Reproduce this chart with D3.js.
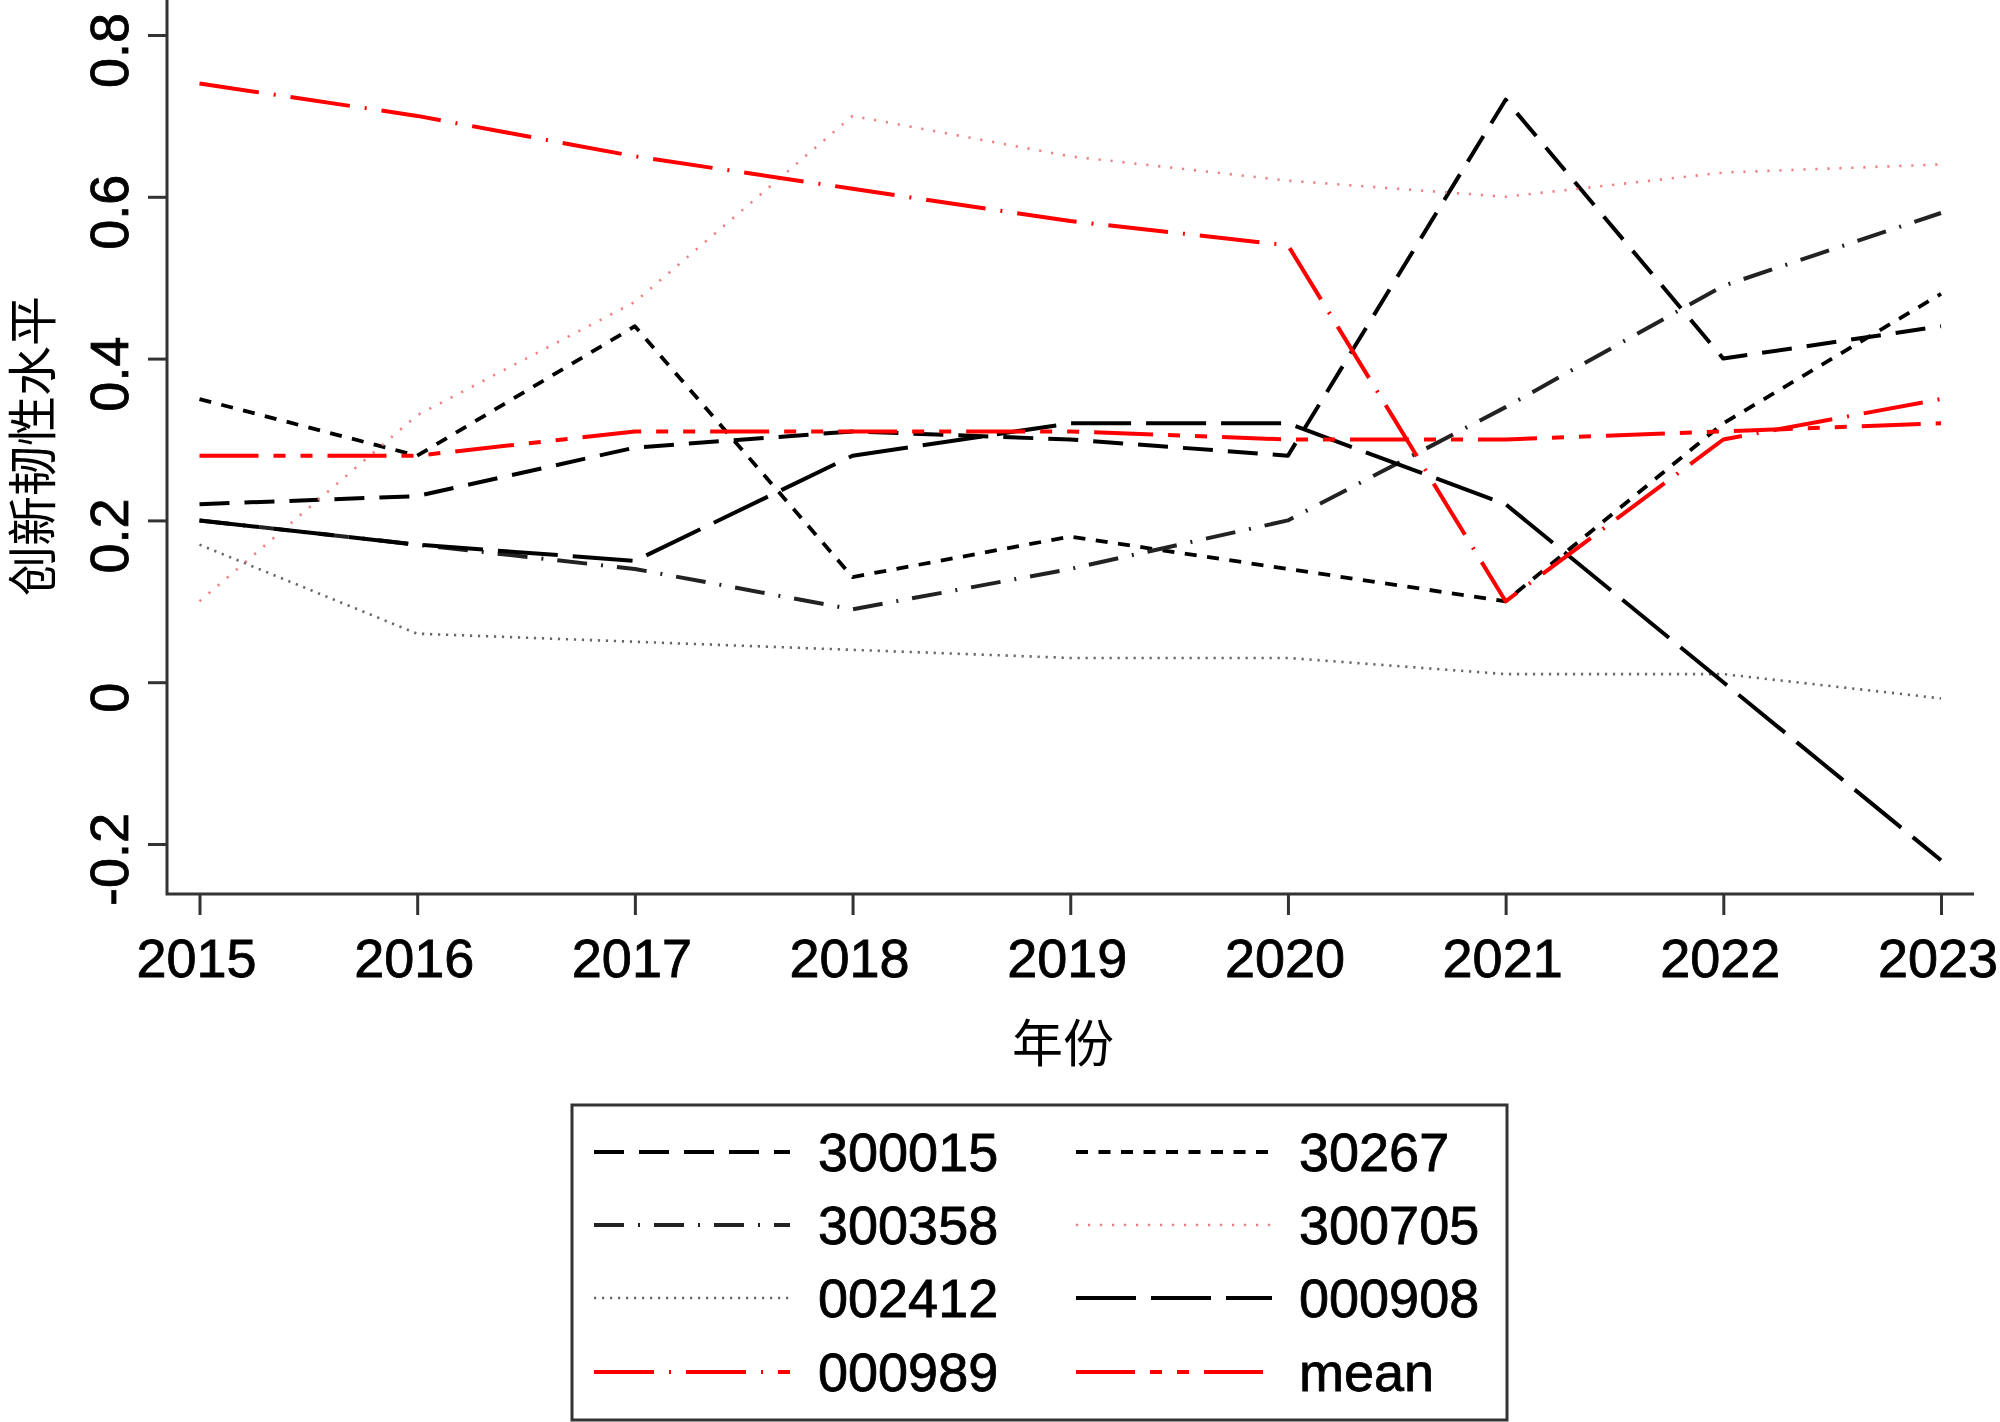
<!DOCTYPE html>
<html><head><meta charset="utf-8">
<script src="https://cdn.jsdelivr.net/npm/d3@7"></script>
<style>body{margin:0;background:#fff}svg{display:block}</style>
</head><body>
<svg id="c" width="2000" height="1422"></svg>
<script>
// ---- data ----
const years = [2015, 2016, 2017, 2018, 2019, 2020, 2021, 2022, 2023];
const yTicks = [-0.2, 0, 0.2, 0.4, 0.6, 0.8];
const yTickLabels = ["-0.2", "0", "0.2", "0.4", "0.6", "0.8"];
const v300015 = [0.22, 0.23, 0.29, 0.31, 0.30, 0.28, 0.72, 0.40, 0.44];
const v30267  = [0.35, 0.28, 0.44, 0.13, 0.18, 0.14, 0.10, 0.32, 0.48];
const v300358 = [0.20, 0.17, 0.14, 0.09, 0.14, 0.20, 0.34, 0.49, 0.58];
const v300705 = [0.10, 0.33, 0.47, 0.70, 0.65, 0.62, 0.60, 0.63, 0.64];
const v002412 = [0.17, 0.06, 0.05, 0.04, 0.03, 0.03, 0.01, 0.01, -0.02];
const v000908 = [0.20, 0.17, 0.15, 0.28, 0.32, 0.32, 0.22, 0.00, -0.22];
const v000989 = [0.74, 0.70, 0.65, 0.61, 0.57, 0.54, 0.10, 0.30, 0.35];
const vMean   = [0.28, 0.28, 0.31, 0.31, 0.31, 0.30, 0.30, 0.31, 0.32];
const xTitle = "年份";
const yTitle = "创新韧性水平";

(function () {
// ---- styles ----
const series = [
  {name: "300015", values: v300015, color: "#000", width: 4,   dash: "30,15"},
  {name: "30267",  values: v30267,  color: "#000", width: 3.8, dash: "12,10.5"},
  {name: "300358", values: v300358, color: "#222", width: 4,   dash: "30,14,2,14"},
  {name: "300705", values: v300705, color: "#f08080", width: 2.6, dash: "2.2,9.8"},
  {name: "002412", values: v002412, color: "#666", width: 2.6, dash: "2.2,5.8"},
  {name: "000908", values: v000908, color: "#000", width: 4,   dash: "60,15"},
  {name: "000989", values: v000989, color: "#ff0000", width: 4, dash: "60,15,2,15"},
  {name: "mean",   values: vMean,   color: "#ff0000", width: 4, dash: "59,15,12,15,12,15"}
];
const legendOrder = [["300015","300358","002412","000989"],["30267","300705","000908","mean"]];

const svg = d3.select("#c");
const FONT = "'Liberation Sans', Arial, Helvetica, sans-serif";
const CJK = "'Noto Sans CJK SC', 'Noto Sans CJK JP', sans-serif";
const TS = 0.8; // slight text thickening

const x = d3.scaleLinear().domain([2015, 2023]).range([199.5, 1941]);
const y = d3.scaleLinear().domain([-0.2, 0.8]).range([844, 35]);

const pLeft = 167, pBottom = 894, pRight = 1974, pTop = 0;
const axisColor = "#333";

// lines
const line = d3.line().x((d, i) => x(years[i])).y(d => y(d));
svg.append("g").selectAll("path").data(series).join("path")
  .attr("d", d => line(d.values))
  .attr("fill", "none")
  .attr("stroke", d => d.color)
  .attr("stroke-width", d => d.width)
  .attr("stroke-dasharray", d => d.dash)
  .attr("stroke-linejoin", "round");

// box (L shape)
svg.append("path")
  .attr("d", `M${pLeft},${pTop}V${pBottom}H${pRight}`)
  .attr("fill", "none").attr("stroke", axisColor).attr("stroke-width", 3);

// x axis
const gx = svg.append("g").attr("transform", `translate(0,${pBottom})`)
  .call(d3.axisBottom(x).tickValues(years).tickFormat(d3.format("d")).tickSize(21).tickSizeOuter(0));
gx.select(".domain").remove();
gx.selectAll(".tick line").attr("stroke", axisColor).attr("stroke-width", 3);
gx.selectAll(".tick text")
  .attr("y", 83).attr("dy", 0).attr("x", -3.5)
  .attr("font-size", 54).attr("font-family", FONT).attr("fill", "#000")
  .attr("stroke", "#000").attr("stroke-width", TS);

// y axis
const gy = svg.append("g").attr("transform", `translate(${pLeft},0)`)
  .call(d3.axisLeft(y).tickValues(yTicks).tickFormat((d, i) => yTickLabels[i]).tickSize(19).tickSizeOuter(0));
gy.select(".domain").remove();
gy.selectAll(".tick line").attr("stroke", axisColor).attr("stroke-width", 3);
gy.selectAll(".tick text")
  .attr("x", 0).attr("dy", 0)
  .attr("transform", "translate(-39,15) rotate(-90)")
  .attr("text-anchor", "middle")
  .attr("font-size", 54).attr("font-family", FONT).attr("fill", "#000")
  .attr("stroke", "#000").attr("stroke-width", TS);

// titles
svg.append("text").text(xTitle)
  .attr("x", 1063).attr("y", 1062).attr("text-anchor", "middle")
  .attr("font-size", 51).attr("font-family", CJK).attr("fill", "#000");
svg.append("text").text(yTitle)
  .attr("transform", "translate(51,446) rotate(-90)").attr("text-anchor", "middle")
  .attr("font-size", 50).attr("font-family", CJK).attr("fill", "#000");

// legend
svg.append("rect").attr("x", 572).attr("y", 1105).attr("width", 935).attr("height", 315)
  .attr("fill", "#fff").attr("stroke", axisColor).attr("stroke-width", 3);
const rowsY = [1152, 1225, 1298, 1372];
const colLine = [[594, 790], [1076, 1272]];
const colText = [818, 1299];
const byName = Object.fromEntries(series.map(s => [s.name, s]));
legendOrder.forEach((col, ci) => {
  col.forEach((nm, ri) => {
    const s = byName[nm];
    svg.append("line")
      .attr("x1", colLine[ci][0]).attr("x2", colLine[ci][1])
      .attr("y1", rowsY[ri]).attr("y2", rowsY[ri])
      .attr("stroke", s.color).attr("stroke-width", s.width)
      .attr("stroke-dasharray", s.dash);
    svg.append("text").text(nm)
      .attr("x", colText[ci]).attr("y", rowsY[ri] + 19)
      .attr("font-size", 54).attr("font-family", FONT).attr("fill", "#000")
      .attr("stroke", "#000").attr("stroke-width", TS);
  });
});
})();
</script>
</body></html>
